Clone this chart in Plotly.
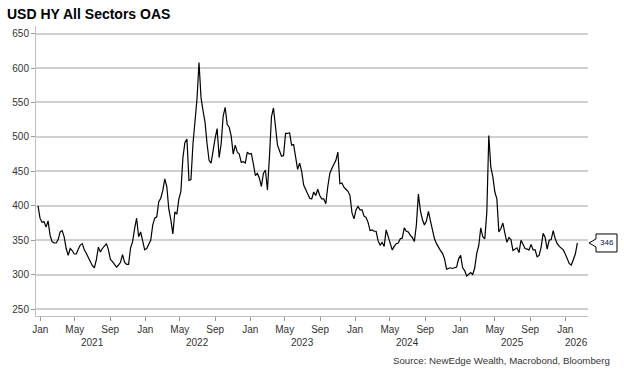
import pandas as pd
import plotly.graph_objects as go

# Weekly readings of USD HY All Sectors OAS (bp), starting 2020-12-24
start_date = "2020-12-24"
oas_values = [
    400, 382, 376, 377, 369, 378, 357, 348, 346, 346,
    351, 362, 364, 355, 338, 328, 338, 335, 330, 330,
    337, 343, 345, 336, 331, 325, 321, 313, 310, 322,
    340, 333, 338, 341, 345, 336, 322, 319, 315, 311,
    314, 318, 329, 318, 315, 315, 339, 348, 367, 382,
    355, 362, 349, 336, 338, 345, 350, 372, 382, 384,
    406, 411, 422, 439, 428, 395, 380, 359, 391, 388,
    410, 421, 470, 492, 497, 437, 438, 490, 524, 555,
    608, 557, 538, 521, 490, 466, 462, 483, 498, 512,
    470, 490, 530, 543, 518, 514, 501, 475, 488, 478,
    475, 463, 464, 462, 478, 475, 476, 461, 444, 447,
    440, 428, 447, 452, 423, 471, 529, 542, 515, 488,
    480, 472, 473, 505, 505, 506, 488, 489, 471, 453,
    462, 450, 430, 424, 417, 411, 410, 420, 415, 424,
    415, 410, 410, 403, 428, 447, 454, 461, 466, 478,
    432, 433, 427, 424, 421, 415, 390, 381, 394, 399,
    394, 394, 385, 383, 376, 364, 365, 363, 363, 349,
    343, 347, 341, 365, 355, 345, 336, 341, 345, 346,
    352, 353, 368, 363, 362, 357, 354, 348, 372, 417,
    393, 380, 372, 378, 392, 378, 363, 352, 345, 339,
    335, 331, 323, 308, 309, 310, 309, 310, 311, 323,
    328, 310, 306, 298, 300, 303, 300, 310, 331, 342,
    368, 355, 352, 390, 502, 456, 442, 420, 410, 362,
    367, 375, 360, 347, 354, 351, 335, 337, 339, 332,
    350, 344, 338, 337, 336, 344, 336, 336, 326, 328,
    340, 360, 354, 337, 350, 351, 364, 352, 345, 341,
    338, 336, 330, 323, 316, 314, 321, 330, 346,
]
dates = pd.date_range(start_date, periods=len(oas_values), freq="7D")

y_ticks = [250, 300, 350, 400, 450, 500, 550, 600, 650]
month_tick_dates = ["2021-01-01", "2021-05-01", "2021-09-01",
                    "2022-01-01", "2022-05-01", "2022-09-01",
                    "2023-01-01", "2023-05-01", "2023-09-01",
                    "2024-01-01", "2024-05-01", "2024-09-01",
                    "2025-01-01", "2025-05-01", "2025-09-01",
                    "2026-01-01"]
month_tick_text = ["Jan", "May", "Sep"] * 5 + ["Jan"]
year_labels = ["2021", "2022", "2023", "2024", "2025", "2026"]
year_label_dates = ["2021-07-02", "2022-07-02", "2023-07-02",
                    "2024-07-02", "2025-07-02", "2026-02-09"]
last_value = oas_values[-1]

FONT = "Arial, Liberation Sans, sans-serif"
TXT = "#333333"

fig = go.Figure()
fig.add_trace(go.Scatter(
    x=dates, y=oas_values, mode="lines",
    line=dict(color="#000000", width=1.2),
    hoverinfo="skip", showlegend=False,
))

fig.update_layout(
    width=624, height=374,
    margin=dict(l=32, r=36, t=26, b=58),
    paper_bgcolor="white", plot_bgcolor="white",
    font=dict(family=FONT, size=10, color=TXT),
    title=dict(text="<b>USD HY All Sectors OAS</b>", x=7 / 624, xref="container",
               xanchor="left", y=1 - 14 / 374, yref="container", yanchor="middle",
               font=dict(family=FONT, size=14, color="#000000")),
    showlegend=False,
)
fig.update_xaxes(
    range=["2020-12-17", "2026-03-21"],
    tickvals=month_tick_dates, ticktext=month_tick_text,
    ticks="outside", ticklen=4, tickcolor="#999999", tickwidth=1,
    showgrid=False, showline=True, linecolor="#c0c0c0", linewidth=1,
    tickfont=dict(family=FONT, size=10, color=TXT),
    zeroline=False,
)
fig.update_yaxes(
    range=[240, 661], tickvals=y_ticks,
    ticks="outside", ticklen=4, tickcolor="#999999", tickwidth=1,
    showgrid=True, gridcolor="#d0d0d0", gridwidth=1.5,
    showline=True, linecolor="#c0c0c0", linewidth=1,
    tickfont=dict(family=FONT, size=10, color=TXT),
    zeroline=False,
)

for lbl, d in zip(year_labels, year_label_dates):
    fig.add_annotation(x=d, y=-0.09, xref="x", yref="paper", text=lbl,
                       showarrow=False, xanchor="center", yanchor="middle",
                       font=dict(family=FONT, size=10, color=TXT))

fig.add_annotation(x=1.043, y=-0.155, xref="paper", yref="paper",
                   text="Source: NewEdge Wealth, Macrobond, Bloomberg",
                   showarrow=False, xanchor="right", yanchor="middle",
                   font=dict(family=FONT, size=9.7, color=TXT))

# last-value callout
fig.add_shape(type="path", xref="paper", xsizemode="pixel", xanchor=1,
              yref="y", ysizemode="pixel", yanchor=last_value,
              path="M 1 0 L 8 -4 L 8 -9 L 29 -9 L 29 9 L 8 9 L 8 4 Z",
              line=dict(color="#000000", width=1), fillcolor="white", layer="above")
fig.add_annotation(x=1, xref="paper", y=last_value, yref="y", xshift=18.5,
                   text=str(last_value), showarrow=False, xanchor="center",
                   yanchor="middle",
                   font=dict(family=FONT, size=8, color="#101050"))

fig.write_html("out.html", config={"displayModeBar": False},
               post_script="document.body.style.margin='0';document.body.style.overflow='hidden';")
